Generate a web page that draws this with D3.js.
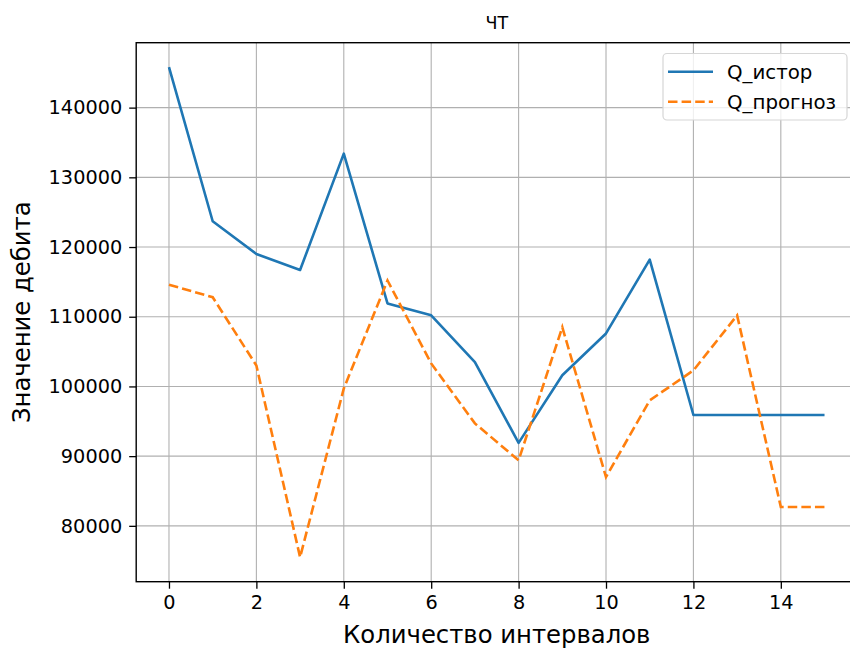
<!DOCTYPE html>
<html>
<head>
<meta charset="utf-8">
<style>
  body { margin: 0; background: #fff; }
  svg text { font-family: "DejaVu Sans", sans-serif; fill: #000; }
</style>
</head>
<body>
<svg width="850" height="648"></svg>
<script src="https://cdn.jsdelivr.net/npm/d3@7"></script>
<script>
  // data
  var intervals = [0, 1, 2, 3, 4, 5, 6, 7, 8, 9, 10, 11, 12, 13, 14, 15];
  var qHist = [145800, 123700, 119000, 116700, 133400, 111900, 110200, 103500,
               91900, 101600, 107600, 118200, 95900, 95900, 95900, 95900];
  var qForecast = [114600, 112800, 103000, 75500, 99700, 115200, 103300, 94700,
                   89400, 108500, 87000, 98000, 102300, 110200, 82700, 82700];
  var seriesNames = ["Q_истор", "Q_прогноз"];
  var xTicks = [0, 2, 4, 6, 8, 10, 12, 14];
  var yTicks = [80000, 90000, 100000, 110000, 120000, 130000, 140000];

  var svg = d3.select("svg");
  var pLeft = 136.2, pRight = 857.3, pTop = 42.7, pBottom = 581.7;

  // matplotlib style 5% margins
  var xMin = d3.min(intervals), xMax = d3.max(intervals);
  var xPad = (xMax - xMin) * 0.05;
  var allY = qHist.concat(qForecast);
  var yMin = d3.min(allY), yMax = d3.max(allY);
  var yPad = (yMax - yMin) * 0.05;

  var x = d3.scaleLinear().domain([xMin - xPad, xMax + xPad]).range([pLeft, pRight]);
  var y = d3.scaleLinear().domain([yMin - yPad, yMax + yPad]).range([pBottom, pTop]);

  var defs = svg.append("defs");
  defs.append("clipPath").attr("id", "clip").append("rect")
    .attr("x", pLeft).attr("y", pTop).attr("width", pRight - pLeft).attr("height", pBottom - pTop);

  // grid
  var grid = svg.append("g").attr("stroke", "#b0b0b0").attr("stroke-width", 1.1);
  grid.selectAll(".gx").data(xTicks).enter().append("line")
    .attr("x1", function(d) { return x(d); }).attr("x2", function(d) { return x(d); })
    .attr("y1", pTop).attr("y2", pBottom);
  grid.selectAll(".gy").data(yTicks).enter().append("line")
    .attr("y1", function(d) { return y(d); }).attr("y2", function(d) { return y(d); })
    .attr("x1", pLeft).attr("x2", pRight);

  // lines
  var line = d3.line()
    .x(function(d, i) { return x(intervals[i]); })
    .y(function(d) { return y(d); });

  var plot = svg.append("g").attr("clip-path", "url(#clip)");
  plot.append("path").datum(qHist)
    .attr("fill", "none").attr("stroke", "#1f77b4").attr("stroke-width", 2.6)
    .attr("stroke-linejoin", "round").attr("d", line);
  plot.append("path").datum(qForecast)
    .attr("fill", "none").attr("stroke", "#ff7f0e").attr("stroke-width", 2.6)
    .attr("stroke-dasharray", "9.5,4.1").attr("d", line);

  // axes
  var xAxis = d3.axisBottom(x).tickValues(xTicks).tickSizeOuter(0).tickSize(7).tickPadding(7);
  var yAxis = d3.axisLeft(y).tickValues(yTicks).tickSizeOuter(0).tickSize(7).tickPadding(7)
    .tickFormat(d3.format("d"));

  var gx = svg.append("g").attr("transform", "translate(0," + pBottom + ")").call(xAxis);
  var gy = svg.append("g").attr("transform", "translate(" + pLeft + ",0)").call(yAxis);
  [gx, gy].forEach(function(g) {
    g.select(".domain").remove();
    g.selectAll(".tick line").attr("stroke", "#000").attr("stroke-width", 1.3);
    g.selectAll(".tick text").attr("font-size", "19.3px")
      .attr("font-family", "DejaVu Sans").attr("fill", "#1a1a1a");
  });

  // frame
  svg.append("rect").attr("x", pLeft).attr("y", pTop)
    .attr("width", pRight - pLeft).attr("height", pBottom - pTop)
    .attr("fill", "none").attr("stroke", "#000").attr("stroke-width", 1.4);

  // titles
  svg.append("text").attr("x", (pLeft + pRight) / 2).attr("y", 29)
    .attr("text-anchor", "middle").attr("font-size", "17.5px").text("ЧТ");
  svg.append("text").attr("x", (pLeft + pRight) / 2).attr("y", 643)
    .attr("text-anchor", "middle").attr("font-size", "24.3px").text("Количество интервалов");
  svg.append("text")
    .attr("transform", "translate(30," + ((pTop + pBottom) / 2) + ") rotate(-90)")
    .attr("text-anchor", "middle").attr("font-size", "24.3px").text("Значение дебита");

  // legend
  var lg = svg.append("g");
  lg.append("rect").attr("x", 663).attr("y", 53.5).attr("width", 184).attr("height", 66.5)
    .attr("rx", 4).attr("fill", "#fff").attr("fill-opacity", 0.8)
    .attr("stroke", "#d6d6d6").attr("stroke-width", 1.2);
  var legItems = [
    { name: seriesNames[0], color: "#1f77b4", dash: null },
    { name: seriesNames[1], color: "#ff7f0e", dash: "9.5,4.1" }
  ];
  legItems.forEach(function(d, i) {
    var yy = 71.7 + i * 30;
    lg.append("line").attr("x1", 668).attr("x2", 713).attr("y1", yy).attr("y2", yy)
      .attr("stroke", d.color).attr("stroke-width", 2.6)
      .attr("stroke-dasharray", d.dash);
    lg.append("text").attr("x", 727).attr("y", yy).attr("dy", "0.35em")
      .attr("font-size", "19.8px").text(d.name);
  });
</script>
</body>
</html>
